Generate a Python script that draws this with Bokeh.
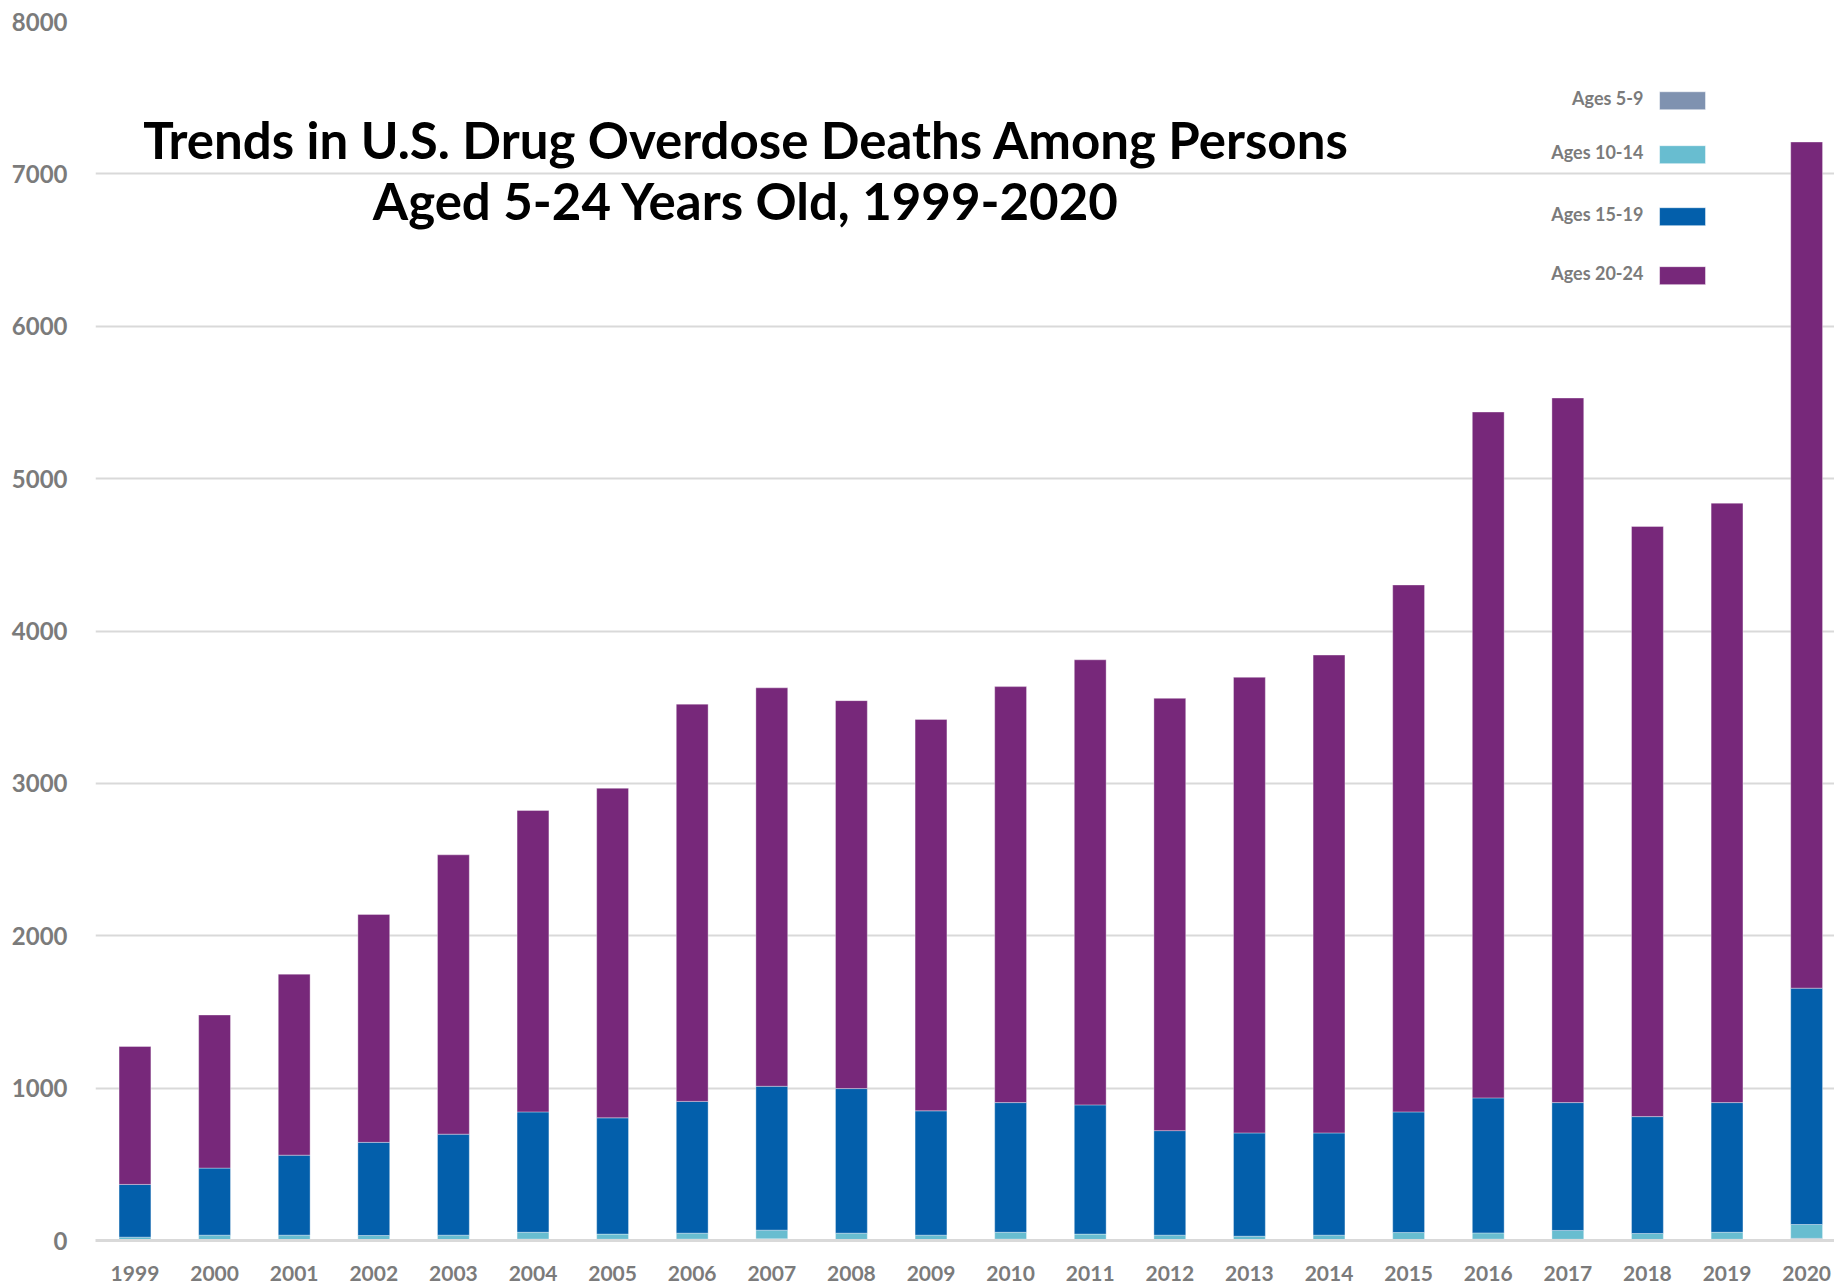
from bokeh.plotting import figure
from bokeh.models import Range1d, FixedTicker, Label, BoxAnnotation
from bokeh.embed import file_html
from bokeh.resources import INLINE

# Drug overdose deaths by age group, 1999-2020
years = list(range(1999, 2021))
ages_5_9 = [4, 5, 6, 5, 5, 9, 8, 9, 11, 7, 5, 9, 7, 5, 4, 5, 7, 9, 8, 7, 8, 14]
ages_10_14 = [18, 30, 29, 28, 30, 45, 34, 39, 57, 41, 30, 45, 35, 30, 24, 30, 45, 41, 58, 39, 46, 91]
ages_15_19 = [346, 440, 525, 611, 663, 790, 763, 865, 944, 949, 816, 851, 848, 686, 678, 671,
              792, 886, 839, 767, 851, 1551]
ages_20_24 = [905, 1005, 1188, 1496, 1833, 1978, 2163, 2607, 2615, 2546, 2569, 2730, 2921, 2837,
              2990, 3136, 3458, 4501, 4624, 3873, 3934, 5553]

series_names = ["Ages 5-9", "Ages 10-14", "Ages 15-19", "Ages 20-24"]
series_keys = ["a5_9", "a10_14", "a15_19", "a20_24"]
series_colors = ["#7f92b0", "#68bdd0", "#035fab", "#77287a"]
y_ticks = [0, 1000, 2000, 3000, 4000, 5000, 6000, 7000, 8000]

title_lines = ["Trends in U.S. Drug Overdose Deaths Among Persons",
               "Aged 5-24 Years Old, 1999-2020"]

W, H = 1834, 1283
p = figure(width=W, height=H, output_backend="svg", toolbar_location=None,
           x_range=Range1d(1998.504, 2020.35), y_range=Range1d(0, 8000),
           min_border_left=95, min_border_right=0, min_border_top=21, min_border_bottom=43)
p.outline_line_color = None
p.background_fill_color = "white"
p.border_fill_color = "white"

data = dict(year=years, a5_9=ages_5_9, a10_14=ages_10_14, a15_19=ages_15_19, a20_24=ages_20_24)
p.vbar_stack(series_keys, x="year", width=0.40, color=series_colors, source=data,
             line_color="white", line_alpha=0.35, line_width=1)

# axes
p.xgrid.grid_line_color = None
p.ygrid.grid_line_color = "#d9d9d9"
p.ygrid.grid_line_width = 2
p.yaxis.ticker = FixedTicker(ticks=y_ticks)
p.xaxis.ticker = FixedTicker(ticks=years)
for ax in (p.xaxis[0], p.yaxis[0]):
    ax.major_tick_line_color = None
    ax.minor_tick_line_color = None
    ax.major_label_text_font = "Lato"
    ax.major_label_text_font_style = "bold"
    ax.major_label_text_color = "#7b7b7b"
p.yaxis.axis_line_color = None
p.yaxis.major_label_text_font_size = "24px"
p.yaxis.major_label_standoff = 22
p.xaxis.axis_line_color = "#d9d9d9"
p.xaxis.axis_line_width = 3
p.xaxis.major_label_text_font_size = "21px"
p.xaxis.major_label_standoff = 19

# title
for txt, yv in zip(title_lines, [7224, 6824]):
    p.add_layout(Label(x=2006.68, y=yv, text=txt, text_align="center", text_baseline="middle",
                       text_font="Lato", text_font_style="bold", text_font_size="51px",
                       text_color="black"))

# legend, labels to the left of swatches
legend_y = [7480, 7126, 6719, 6332]
for name, col, yc in zip(series_names, series_colors, legend_y):
    p.add_layout(BoxAnnotation(left=2018.152, right=2018.73, bottom=yc - 59, top=yc + 59,
                               fill_color=col, fill_alpha=1, line_color="white", line_alpha=0.5))
    p.add_layout(Label(x=2017.95, y=yc + 18, text=name, text_align="right", text_baseline="middle",
                       text_font="Lato", text_font_style="bold", text_font_size="18px",
                       text_color="#7b7b7b"))

open("out.html", "w").write(file_html(p, INLINE))
